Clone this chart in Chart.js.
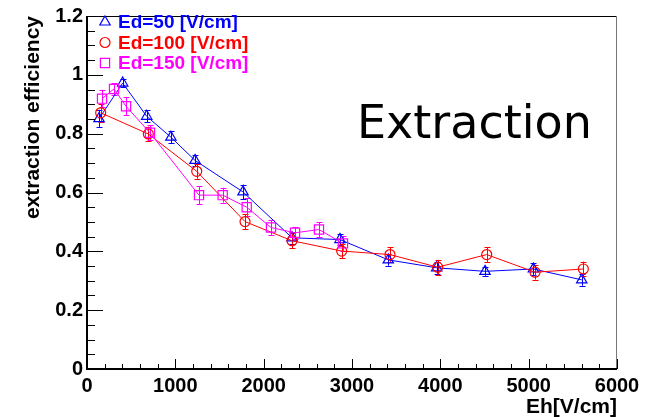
<!DOCTYPE html>
<html>
<head>
<meta charset="utf-8">
<script src="https://cdn.jsdelivr.net/npm/chart.js@4.4.1/dist/chart.umd.min.js"></script>
<style>
  html, body { margin: 0; padding: 0; background: #fff; }
  canvas { display: block; }
</style>
</head>
<body>
<canvas id="chart" width="650" height="417"></canvas>
<script>
/* ── Data ── */
const seriesNames = ['Ed=50 [V/cm]', 'Ed=100 [V/cm]', 'Ed=150 [V/cm]'];

const ed50X   = [136, 404, 676, 950, 1223, 1766, 2321, 2864, 3411, 3959, 4506, 5053, 5601];
const ed50Y   = [0.851, 0.972, 0.859, 0.788, 0.709, 0.602, 0.446, 0.440, 0.371, 0.344, 0.332, 0.340, 0.303];
const ed50Err = [0.030, 0.015, 0.020, 0.020, 0.020, 0.025, 0.020, 0.020, 0.020, 0.020, 0.015, 0.020, 0.020];

const ed100X   = [155, 694, 1242, 1789, 2321, 2883, 3430, 3970, 4525, 5072, 5619];
const ed100Y   = [0.871, 0.799, 0.672, 0.501, 0.436, 0.401, 0.389, 0.346, 0.389, 0.329, 0.340];
const ed100Err = [0.030, 0.025, 0.025, 0.025, 0.025, 0.025, 0.025, 0.025, 0.025, 0.025, 0.025];

const ed150X   = [170, 306, 442, 713, 1268, 1536, 1808, 2083, 2355, 2626, 2898];
const ed150Y   = [0.919, 0.952, 0.893, 0.803, 0.591, 0.591, 0.550, 0.481, 0.463, 0.474, 0.427];
const ed150Err = [0.030, 0.020, 0.030, 0.025, 0.030, 0.025, 0.030, 0.025, 0.020, 0.025, 0.025];

const xTicksMajor = [0, 1000, 2000, 3000, 4000, 5000, 6000];
const yTicksMajor = [0, 0.2, 0.4, 0.6, 0.8, 1.0, 1.2];

const FAMILY = "'Liberation Sans', Arial, sans-serif";
Chart.defaults.font.family = FAMILY;
Chart.defaults.font.weight = 'bold';
Chart.defaults.font.size = 20;

function pts(xs, ys) { return xs.map((x, i) => ({ x, y: ys[i] })); }

const series = [
    { name: seriesNames[0], color: '#0000ff', style: 'triangle', radius: 6,   x: ed50X,  y: ed50Y,  err: ed50Err },
    { name: seriesNames[1], color: '#ff0000', style: 'circle',   radius: 5,   x: ed100X, y: ed100Y, err: ed100Err },
    { name: seriesNames[2], color: '#ff00ff', style: 'rect',     radius: 6.5, x: ed150X, y: ed150Y, err: ed150Err },
];

/* ── Error bars (through scales) ── */
const errorBars = {
    id: 'errorBars',
    beforeDatasetsDraw(chart) {
        const { ctx, scales: { x, y } } = chart;
        ctx.save();
        ctx.lineWidth = 1;
        series.forEach(s => {
            ctx.strokeStyle = s.color;
            s.x.forEach((v, i) => {
                const px = Math.round(x.getPixelForValue(v)) + 0.5;
                const y1 = y.getPixelForValue(s.y[i] - s.err[i]);
                const y2 = y.getPixelForValue(s.y[i] + s.err[i]);
                ctx.beginPath();
                ctx.moveTo(px, y1); ctx.lineTo(px, y2);
                ctx.moveTo(px - 3, Math.round(y1) + 0.5); ctx.lineTo(px + 3, Math.round(y1) + 0.5);
                ctx.moveTo(px - 3, Math.round(y2) + 0.5); ctx.lineTo(px + 3, Math.round(y2) + 0.5);
                ctx.stroke();
            });
        });
        ctx.restore();
    }
};

/* ── Frame, ticks, legend, labels ── */
const frame = {
    id: 'frame',
    afterDraw(chart) {
        const { ctx, chartArea: a, scales: { x, y } } = chart;
        ctx.save();

        // top / right frame
        ctx.lineWidth = 1;
        ctx.strokeStyle = '#000';
        ctx.beginPath();
        ctx.moveTo(a.left, a.top + 0.5); ctx.lineTo(a.right, a.top + 0.5);
        ctx.stroke();
        ctx.strokeStyle = '#777';
        ctx.beginPath();
        ctx.moveTo(a.right - 0.5, a.top); ctx.lineTo(a.right - 0.5, a.bottom);
        ctx.stroke();

        // ticks
        ctx.strokeStyle = '#000';
        ctx.lineWidth = 1;
        ctx.beginPath();
        for (let v = 0; v <= 1.2001; v += 0.05) {
            const py = Math.round(y.getPixelForValue(v)) + 0.5;
            const major = Math.abs(v / 0.2 - Math.round(v / 0.2)) < 1e-6;
            ctx.moveTo(a.left, py); ctx.lineTo(a.left + (major ? 16 : 8), py);
        }
        for (let v = 0; v <= 6000; v += 200) {
            const px = Math.round(x.getPixelForValue(v)) + 0.5;
            const major = v % 1000 === 0;
            ctx.moveTo(px, a.bottom); ctx.lineTo(px, a.bottom - (major ? 10 : 5));
        }
        ctx.stroke();

        // axis lines
        ctx.lineWidth = 2;
        ctx.beginPath();
        ctx.moveTo(a.left, a.top); ctx.lineTo(a.left, a.bottom);
        ctx.lineTo(a.right, a.bottom);
        ctx.stroke();

        // legend
        ctx.font = 'bold 19px ' + FAMILY;
        ctx.textBaseline = 'middle';
        ctx.textAlign = 'left';
        series.forEach((s, i) => {
            const cy = 22 + i * 20.5;
            ctx.strokeStyle = s.color;
            ctx.fillStyle = 'rgba(0,0,0,0)';
            ctx.lineWidth = 1.2;
            Chart.helpers.drawPoint(ctx, {
                pointStyle: s.style, radius: s.radius, borderWidth: 1.2, rotation: 0
            }, 105, cy);
            ctx.fillStyle = s.color;
            ctx.fillText(s.name, 118, cy + 1);
        });

        // big label
        ctx.fillStyle = '#000';
        ctx.font = "46px 'DejaVu Sans', sans-serif";
        ctx.textBaseline = 'alphabetic';
        ctx.fillText('Extraction', 357, 138);

        // axis titles
        ctx.font = 'bold 21px ' + FAMILY;
        ctx.textAlign = 'right';
        ctx.fillText('Eh[V/cm]', a.right, 413);

        ctx.translate(39, a.top);
        ctx.rotate(-Math.PI / 2);
        ctx.textAlign = 'right';
        ctx.fillText('extraction efficiency', 0, 0);

        ctx.restore();
    }
};

const tickFont = { family: FAMILY, size: 20, weight: 'bold' };

new Chart(document.getElementById('chart'), {
    type: 'scatter',
    data: {
        datasets: series.map((s, i) => ({
            label: s.name,
            data: pts(s.x, s.y),
            showLine: true,
            borderColor: s.color,
            borderWidth: 1,
            pointStyle: s.style,
            pointRadius: s.radius,
            pointBorderWidth: 1.2,
            pointBorderColor: s.color,
            pointBackgroundColor: 'rgba(0,0,0,0)',
            order: 3 - i,
        }))
    },
    options: {
        responsive: false,
        devicePixelRatio: 1,
        animation: false,
        layout: { padding: { left: 0, top: 13, right: 33, bottom: 0 } },
        plugins: { legend: { display: false }, tooltip: { enabled: false } },
        scales: {
            x: {
                type: 'linear', min: 0, max: 6000,
                afterFit: s => { s.height = 48; },
                grid: { display: false, drawTicks: false },
                border: { display: false },
                afterBuildTicks: s => { s.ticks = xTicksMajor.map(v => ({ value: v })); },
                ticks: { color: '#000', font: tickFont, padding: 5, maxRotation: 0, callback: v => String(v) }
            },
            y: {
                type: 'linear', min: 0, max: 1.2,
                afterFit: s => { s.width = 87; },
                grid: { display: false, drawTicks: false },
                border: { display: false },
                afterBuildTicks: s => { s.ticks = yTicksMajor.map(v => ({ value: v })); },
                ticks: { color: '#000', font: tickFont, padding: 4, callback: v => String(+v.toFixed(1)) }
            }
        }
    },
    plugins: [errorBars, frame]
});
</script>
</body>
</html>
